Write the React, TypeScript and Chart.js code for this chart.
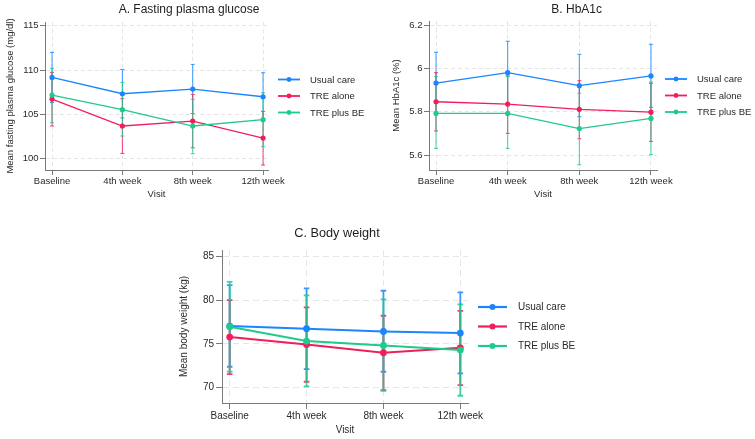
import React, { useEffect, useRef } from 'react';
import Chart from 'chart.js/auto';

// ---------- data ----------
const visits = ['Baseline', '4th week', '8th week', '12th week'];
const seriesNames = ['Usual care', 'TRE alone', 'TRE plus BE'];
const seriesColors = ['#1a85ff', '#ef1f5c', '#1fca8b'];

// A. Fasting plasma glucose
const glucoseTicks = [100, 105, 110, 115];
const glucoseUsualCare = [109.17, 107.33, 107.86, 106.99];
const glucoseUsualCareLow = [106.35, 104.6, 105.1, 104.3];
const glucoseUsualCareHigh = [111.99, 110.07, 110.64, 109.7];
const glucoseTreAlone = [106.73, 103.69, 104.25, 102.33];
const glucoseTreAloneLow = [103.69, 100.6, 101.24, 99.29];
const glucoseTreAloneHigh = [109.74, 106.77, 107.26, 105.34];
const glucoseTrePlusBe = [107.18, 105.53, 103.69, 104.4];
const glucoseTrePlusBeLow = [104.06, 102.56, 100.57, 101.36];
const glucoseTrePlusBeHigh = [110.19, 108.61, 106.7, 107.44];

// B. HbA1c
const hba1cTicks = [5.6, 5.8, 6, 6.2];
const hba1cUsualCare = [5.932, 5.98, 5.92, 5.965];
const hba1cUsualCareLow = [5.79, 5.835, 5.777, 5.82];
const hba1cUsualCareHigh = [6.074, 6.125, 6.065, 6.111];
const hba1cTreAlone = [5.846, 5.835, 5.811, 5.798];
const hba1cTreAloneLow = [5.711, 5.7, 5.675, 5.663];
const hba1cTreAloneHigh = [5.98, 5.965, 5.943, 5.931];
const hba1cTrePlusBe = [5.792, 5.792, 5.722, 5.769];
const hba1cTrePlusBeLow = [5.631, 5.631, 5.555, 5.602];
const hba1cTrePlusBeHigh = [5.962, 5.962, 5.885, 5.937];

// C. Body weight
const weightTicks = [70, 75, 80, 85];
const weightUsualCare = [77.03, 76.73, 76.42, 76.23];
const weightUsualCareLow = [72.36, 72.1, 71.79, 71.6];
const weightUsualCareHigh = [81.74, 81.36, 81.09, 80.9];
const weightTreAlone = [75.77, 74.93, 73.97, 74.54];
const weightTreAloneLow = [71.52, 70.64, 69.68, 70.26];
const weightTreAloneHigh = [80.02, 79.18, 78.22, 78.79];
const weightTrePlusBe = [76.96, 75.31, 74.81, 74.28];
const weightTrePlusBeLow = [71.8, 70.1, 69.6, 69.03];
const weightTrePlusBeHigh = [82.12, 80.55, 80.09, 79.52];

// ---------- styling ----------
const FONT = '"Liberation Sans", Arial, Helvetica, sans-serif';
const TEXT = '#2a2a2a';
const AXIS = '#7a7a7a';
const GRID = '#e6e6e6';

const errorBarPlugin = {
  id: 'errorBars',
  beforeDatasetsDraw(chart: any, _args: any, opts: any) {
    const { ctx, scales } = chart;
    const xs = scales.x;
    const ys = scales.y;
    ctx.save();
    chart.data.datasets.forEach((ds: any) => {
      ctx.strokeStyle = ds.borderColor;
      ctx.globalAlpha = opts.alpha;
      ctx.lineWidth = opts.width;
      ds.errLow.forEach((lo: number, j: number) => {
        const px = xs.getPixelForValue(j);
        const y1 = ys.getPixelForValue(lo);
        const y2 = ys.getPixelForValue(ds.errHigh[j]);
        ctx.beginPath();
        ctx.moveTo(px, y1);
        ctx.lineTo(px, y2);
        ctx.moveTo(px - opts.cap, y1);
        ctx.lineTo(px + opts.cap, y1);
        ctx.moveTo(px - opts.cap, y2);
        ctx.lineTo(px + opts.cap, y2);
        ctx.stroke();
      });
    });
    ctx.restore();
  },
};

const decorPlugin = {
  id: 'decor',
  afterDraw(chart: any, _args: any, o: any) {
    const { ctx, chartArea: ca } = chart;
    ctx.save();
    ctx.fillStyle = '#1e1e1e';
    ctx.font = `${o.titleSize}px ${FONT}`;
    ctx.textAlign = 'center';
    ctx.textBaseline = 'middle';
    ctx.fillText(o.title, o.titleX, o.titleY);
    const cy = (ca.top + ca.bottom) / 2;
    ctx.font = `${o.fontSize}px ${FONT}`;
    ctx.textAlign = 'left';
    chart.data.datasets.forEach((ds: any, i: number) => {
      const ry = cy + (i - 1) * o.rowGap;
      const lx = ca.right + o.legendGap;
      ctx.strokeStyle = ds.borderColor;
      ctx.lineWidth = o.lineWidth;
      ctx.beginPath();
      ctx.moveTo(lx, ry);
      ctx.lineTo(lx + o.sampleLen, ry);
      ctx.stroke();
      ctx.fillStyle = ds.borderColor;
      ctx.beginPath();
      ctx.arc(lx + o.sampleLen / 2, ry, o.dot, 0, Math.PI * 2);
      ctx.fill();
      ctx.fillStyle = TEXT;
      ctx.fillText(ds.label, lx + o.sampleLen + o.textGap, ry + 0.5);
    });
    ctx.restore();
  },
};

type Spec = {
  left: number; top: number; width: number; height: number;
  title: string; titleX: number; titleY: number; titleSize: number;
  yTitle: string; yTitlePad: number; xTitlePad: number;
  padTop: number; padRight: number; yAxisWidth: number; xAxisHeight: number;
  xMin: number; xMax: number; yMin: number; yMax: number; yTicks: number[];
  font: number; tickLen: number; yTickPad: number; xTickPad: number;
  lineWidth: number; pointRadius: number; errWidth: number; cap: number;
  legendGap: number; rowGap: number; sampleLen: number; textGap: number; legendLine: number; legendDot: number;
  dash: number[];
  means: number[][]; lows: number[][]; highs: number[][];
};

function makeConfig(p: Spec): any {
  const tickFont = { family: FONT, size: p.font };
  return {
    type: 'line',
    data: {
      datasets: p.means.map((m, i) => ({
        label: seriesNames[i],
        data: m.map((v, j) => ({ x: j, y: v })),
        errLow: p.lows[i],
        errHigh: p.highs[i],
        borderColor: seriesColors[i],
        backgroundColor: seriesColors[i],
        pointBackgroundColor: seriesColors[i],
        pointBorderWidth: 0,
        pointRadius: p.pointRadius,
        borderWidth: p.lineWidth,
        tension: 0,
        order: 3 - i,
      })),
    },
    options: {
      responsive: false,
      animation: false,
      events: [],
      layout: { padding: { top: p.padTop, right: p.padRight, left: 0, bottom: 0 } },
      plugins: {
        legend: { display: false },
        title: { display: false },
        tooltip: { enabled: false },
        errorBars: { width: p.errWidth, cap: p.cap, alpha: 0.85 },
        decor: {
          title: p.title, titleX: p.titleX, titleY: p.titleY, titleSize: p.titleSize,
          fontSize: p.font, legendGap: p.legendGap, rowGap: p.rowGap, sampleLen: p.sampleLen,
          textGap: p.textGap, lineWidth: p.legendLine, dot: p.legendDot,
        },
      },
      scales: {
        x: {
          type: 'linear',
          min: p.xMin,
          max: p.xMax,
          afterBuildTicks: (ax: any) => { ax.ticks = visits.map((_, i) => ({ value: i })); },
          afterFit: (ax: any) => { ax.height = p.xAxisHeight; },
          ticks: {
            callback: (v: number) => visits[v],
            font: tickFont, color: TEXT, padding: p.xTickPad, maxRotation: 0, autoSkip: false,
          },
          grid: { color: GRID, tickColor: AXIS, tickLength: p.tickLen, lineWidth: 1 },
          border: { color: AXIS, width: 1, dash: p.dash },
          title: { display: true, text: 'Visit', font: tickFont, color: TEXT, padding: { top: 0, bottom: p.xTitlePad } },
        },
        y: {
          type: 'linear',
          min: p.yMin,
          max: p.yMax,
          afterBuildTicks: (ax: any) => { ax.ticks = p.yTicks.map((v) => ({ value: v })); },
          afterFit: (ax: any) => { ax.width = p.yAxisWidth; },
          ticks: { callback: (v: number) => String(v), font: tickFont, color: TEXT, padding: p.yTickPad },
          grid: { color: GRID, tickColor: AXIS, tickLength: p.tickLen, lineWidth: 1 },
          border: { color: AXIS, width: 1, dash: p.dash },
          title: { display: true, text: p.yTitle, font: tickFont, color: TEXT, padding: { top: p.yTitlePad, bottom: 0 } },
        },
      },
    },
    plugins: [errorBarPlugin, decorPlugin],
  };
}

const smallPanel = {
  height: 200, titleY: 10, titleSize: 12, xTitlePad: 0, xAxisHeight: 30,
  font: 9.5, tickLen: 5, yTickPad: 1.5, xTickPad: 1,
  lineWidth: 1.3, pointRadius: 2.6, errWidth: 1, cap: 2,
  legendGap: 10, rowGap: 16.5, sampleLen: 22, textGap: 10, legendLine: 1.8, legendDot: 2.4,
  dash: [4, 3],
};

const panelA: Spec = {
  ...smallPanel,
  left: 0, top: 0, width: 378,
  title: 'A. Fasting plasma glucose', titleX: 189,
  yTitle: 'Mean fasting plasma glucose (mg/dl)', yTitlePad: 5,
  padTop: 22, padRight: 110, yAxisWidth: 45,
  xMin: -0.1, xMax: 3.07, yMin: 98.73, yMax: 115.42, yTicks: glucoseTicks,
  means: [glucoseUsualCare, glucoseTreAlone, glucoseTrePlusBe],
  lows: [glucoseUsualCareLow, glucoseTreAloneLow, glucoseTrePlusBeLow],
  highs: [glucoseUsualCareHigh, glucoseTreAloneHigh, glucoseTrePlusBeHigh],
};

const panelB: Spec = {
  ...smallPanel,
  left: 387, top: 0, width: 368,
  title: 'B. HbA1c', titleX: 189.7,
  yTitle: 'Mean HbA1c (%)', yTitlePad: 4,
  padTop: 21, padRight: 98, yAxisWidth: 42,
  legendGap: 8,
  xMin: -0.098, xMax: 3.084, yMin: 5.531, yMax: 6.2185, yTicks: hba1cTicks,
  means: [hba1cUsualCare, hba1cTreAlone, hba1cTrePlusBe],
  lows: [hba1cUsualCareLow, hba1cTreAloneLow, hba1cTrePlusBeLow],
  highs: [hba1cUsualCareHigh, hba1cTreAloneHigh, hba1cTrePlusBeHigh],
};

const panelC: Spec = {
  left: 175, top: 200, width: 420, height: 239,
  title: 'C. Body weight', titleX: 162, titleY: 33, titleSize: 12.7,
  yTitle: 'Mean body weight (kg)', yTitlePad: 3, xTitlePad: 3,
  padTop: 50, padRight: 127, yAxisWidth: 47, xAxisHeight: 36,
  xMin: -0.1, xMax: 3.1, yMin: 68.2, yMax: 85.77, yTicks: weightTicks,
  font: 10, tickLen: 6, yTickPad: 2, xTickPad: 1,
  lineWidth: 2, pointRadius: 3.4, errWidth: 1.8, cap: 2.8,
  legendGap: 10, rowGap: 19.5, sampleLen: 29, textGap: 11, legendLine: 2.2, legendDot: 3,
  dash: [6, 4],
  means: [weightUsualCare, weightTreAlone, weightTrePlusBe],
  lows: [weightUsualCareLow, weightTreAloneLow, weightTrePlusBeLow],
  highs: [weightUsualCareHigh, weightTreAloneHigh, weightTrePlusBeHigh],
};

function Panel({ spec }: { spec: Spec }) {
  const ref = useRef<HTMLCanvasElement | null>(null);
  useEffect(() => {
    if (!ref.current) return;
    const chart = new Chart(ref.current, makeConfig(spec));
    return () => chart.destroy();
  }, [spec]);
  return (
    <div style={{ position: 'absolute', left: spec.left, top: spec.top, width: spec.width, height: spec.height }}>
      <canvas ref={ref} width={spec.width} height={spec.height} style={{ display: 'block' }} />
    </div>
  );
}

export default function App() {
  return (
    <div style={{ position: 'fixed', left: 0, top: 0, width: 755, height: 439, background: '#ffffff', overflow: 'hidden' }}>
      <Panel spec={panelA} />
      <Panel spec={panelB} />
      <Panel spec={panelC} />
    </div>
  );
}
